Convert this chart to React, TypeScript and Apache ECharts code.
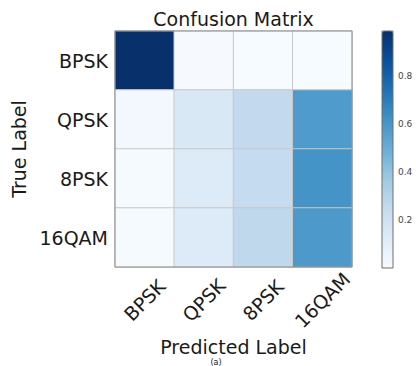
import React, { useEffect, useRef } from "react";
import * as echarts from "echarts";

// Class names on both axes
const predictedLabels = ["BPSK", "QPSK", "8PSK", "16QAM"];
const trueLabels = ["BPSK", "QPSK", "8PSK", "16QAM"];

// Normalised confusion rows (one per true class, columns = predicted class)
const rowBPSK = [0.99, 0.004, 0.003, 0.003];
const rowQPSK = [0.02, 0.15, 0.26, 0.58];
const rowEightPSK = [0.01, 0.13, 0.25, 0.61];
const rowSixteenQAM = [0.01, 0.13, 0.27, 0.59];

// Colour bar ticks
const colorbarTicks = [0.2, 0.4, 0.6, 0.8];

// matplotlib "Blues" colormap stops
const blues = [
  "#f7fbff", "#deebf7", "#c6dbef", "#9ecae1", "#6baed6",
  "#4292c6", "#2171b5", "#08519c", "#08306b",
];

const FONT = "DejaVu Sans";
const INK = "#1a1a1a";

export default function App() {
  const ref = useRef<HTMLDivElement>(null);

  useEffect(() => {
    if (!ref.current) return;
    const chart = echarts.init(ref.current, undefined, { renderer: "svg" });

    const rows = [rowBPSK, rowQPSK, rowEightPSK, rowSixteenQAM];
    const cells: number[][] = [];
    rows.forEach((row, r) => row.forEach((v, c) => cells.push([c, r, v])));
    const vmax = Math.max(...cells.map((d) => d[2]));

    const gx = 115, gy = 31, gw = 237, gh = 236;
    const cbx = 382, cbw = 11;

    chart.setOption({
      animation: false,
      textStyle: { fontFamily: FONT },
      grid: [
        { left: gx, top: gy, width: gw, height: gh },
        { left: cbx, top: gy, width: cbw, height: gh + 1 },
      ],
      xAxis: [
        {
          type: "category",
          gridIndex: 0,
          data: predictedLabels,
          name: "Predicted Label",
          nameLocation: "middle",
          nameGap: 66,
          nameTextStyle: { fontSize: 19, color: INK, fontFamily: FONT },
          axisLine: { show: false },
          axisTick: { show: false },
          splitLine: { show: false },
          axisLabel: {
            rotate: 45,
            align: "center",
            verticalAlign: "middle",
            margin: 33,
            fontSize: 19,
            color: INK,
            fontFamily: FONT,
          },
        },
        {
          type: "value",
          gridIndex: 1,
          show: false,
          min: 0,
          max: 1,
        },
      ],
      yAxis: [
        {
          type: "category",
          gridIndex: 0,
          data: trueLabels,
          inverse: true,
          name: "True Label",
          nameLocation: "middle",
          nameGap: 83,
          nameTextStyle: { fontSize: 19, color: INK, fontFamily: FONT },
          axisLine: { show: false },
          axisTick: { show: false },
          splitLine: { show: false },
          axisLabel: { margin: 7, fontSize: 19, color: INK, fontFamily: FONT },
        },
        {
          type: "value",
          gridIndex: 1,
          position: "right",
          min: 0,
          max: vmax,
          interval: 0.2,
          axisLine: { show: false },
          splitLine: { show: false },
          axisTick: { show: true, length: 3, lineStyle: { color: "#444" } },
          axisLabel: {
            margin: 5,
            fontSize: 9,
            color: "#444",
            fontFamily: FONT,
            showMinLabel: false,
            showMaxLabel: false,
            formatter: (v: number) =>
              colorbarTicks.some((t) => Math.abs(t - v) < 1e-6) ? v.toFixed(1) : "",
          },
        },
      ],
      visualMap: {
        type: "continuous",
        min: 0,
        max: vmax,
        seriesIndex: 0,
        orient: "vertical",
        left: cbx,
        top: gy,
        padding: 0,
        itemWidth: cbw,
        itemHeight: gh + 1,
        text: ["", ""],
        showLabel: false,
        calculable: false,
        inRange: { color: blues },
      },
      series: [
        {
          type: "heatmap",
          xAxisIndex: 0,
          yAxisIndex: 0,
          data: cells,
          itemStyle: { borderColor: "#c8c8c8", borderWidth: 1 },
          emphasis: { disabled: true },
        },
      ],
      graphic: [
        {
          type: "text",
          x: gx + gw / 2,
          y: 19,
          style: {
            text: "Confusion Matrix",
            fontSize: 19,
            fontFamily: FONT,
            fill: INK,
            textAlign: "center",
            textVerticalAlign: "middle",
          },
        },
        {
          type: "rect",
          z: 100,
          shape: { x: gx, y: gy, width: gw, height: gh },
          style: { fill: "none", stroke: "#8c8c8c", lineWidth: 1 },
        },
        {
          type: "rect",
          z: 100,
          shape: { x: cbx, y: gy, width: cbw, height: gh + 1 },
          style: { fill: "none", stroke: "#6e6e6e", lineWidth: 1 },
        },
        {
          type: "text",
          x: 216,
          y: 366,
          style: {
            text: "(a)",
            fontSize: 8,
            fontFamily: FONT,
            fill: INK,
            textAlign: "center",
            textVerticalAlign: "bottom",
          },
        },
      ],
    });

    return () => chart.dispose();
  }, []);

  return (
    <div
      ref={ref}
      style={{ position: "fixed", left: 0, top: 0, width: 416, height: 366, background: "#fff" }}
    />
  );
}
